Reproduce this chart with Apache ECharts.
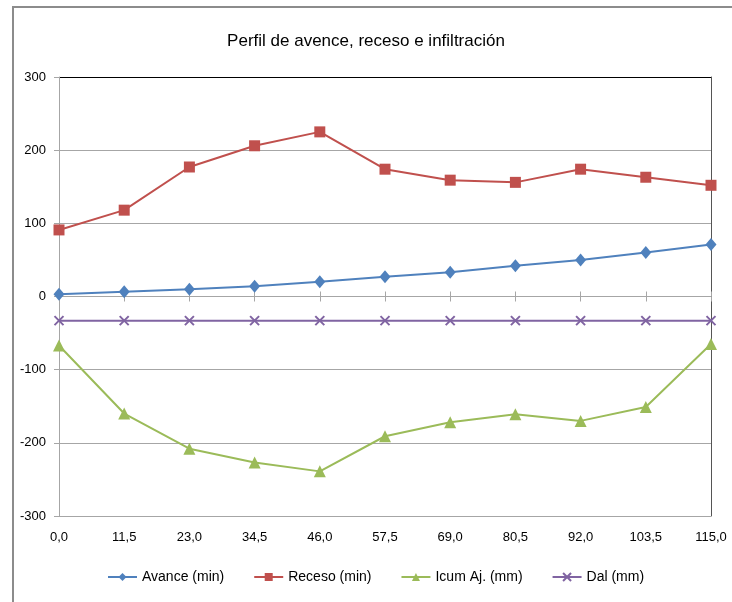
<!DOCTYPE html>
<html>
<head>
<meta charset="utf-8">
<script src="https://cdn.jsdelivr.net/npm/echarts@6/dist/echarts.min.js"></script>
<style>html,body{margin:0;padding:0;background:#fff}#c{width:732px;height:602px}</style>
</head>
<body>
<div id="c"></div>
<script>
var categories = ['0,0','11,5','23,0','34,5','46,0','57,5','69,0','80,5','92,0','103,5','115,0'];
var avance = [3, 6.5, 10, 14, 20, 27, 33, 42, 50, 60, 71];
var receso = [91, 118, 177, 206, 225, 174, 159, 156, 174, 163, 152];
var icum = [-67, -160, -208, -227, -239, -191, -172, -161, -170, -151, -65];
var dal = [-33, -33, -33, -33, -33, -33, -33, -33, -33, -33, -33];
var yTicks = [-300, -200, -100, 0, 100, 200, 300];

var FONT = "'Liberation Sans', Arial, sans-serif";
var chart = echarts.init(document.getElementById('c'));
var gridColor = '#a6a6a6';
var splitColors = yTicks.map(function (v, i) { return i === yTicks.length - 1 ? '#000' : gridColor; });

chart.setOption({
  animation: false,
  textStyle: { fontFamily: FONT },
  title: {
    text: 'Perfil de avence, receso e infiltración',
    left: 'center', top: 28,
    textStyle: { fontFamily: FONT, fontSize: 17, fontWeight: 'normal', color: '#000' }
  },
  graphic: [{
    type: 'rect', z: 100, silent: true,
    shape: { x: 13, y: 7, width: 800, height: 700 },
    style: { fill: 'none', stroke: '#8c8c8c', lineWidth: 2 }
  }],
  legend: {
    bottom: 13, left: 102,
    itemWidth: 29, itemHeight: 10, itemGap: 29,
    textStyle: { fontFamily: FONT, fontSize: 14, color: '#000' },
    data: ['Avance (min)', 'Receso (min)', 'Icum Aj. (mm)', 'Dal (mm)']
  },
  grid: { left: 59, right: 21, top: 77, bottom: 86, containLabel: false },
  xAxis: [{
    type: 'category', data: categories, boundaryGap: false, position: 'bottom',
    axisLine: { show: false, onZero: false }, axisTick: { show: false },
    axisLabel: { margin: 15, fontFamily: FONT, fontSize: 13, color: '#000' },
    splitLine: { show: false }
  }, {
    type: 'category', data: categories, boundaryGap: false,
    axisLine: { show: true, onZero: true, lineStyle: { color: gridColor, width: 1 } },
    axisTick: { show: true, length: 5, lineStyle: { color: gridColor } },
    axisLabel: { show: false }, splitLine: { show: false }
  }, {
    type: 'category', data: categories, boundaryGap: false,
    axisLine: { show: false, onZero: true },
    axisTick: { show: true, inside: true, length: 5, lineStyle: { color: gridColor } },
    axisLabel: { show: false }, splitLine: { show: false }
  }],
  yAxis: [{
    type: 'value', min: -300, max: 300, interval: 100,
    axisLine: { show: true, lineStyle: { color: gridColor } },
    axisTick: { show: true, length: 5, lineStyle: { color: gridColor } },
    axisLabel: { margin: 13, fontFamily: FONT, fontSize: 13, color: '#000' },
    splitLine: { show: true, lineStyle: { color: splitColors, width: 1 } }
  }, {
    type: 'value', min: -300, max: 300, interval: 100, position: 'right',
    axisLine: { show: true, lineStyle: { color: '#555' } },
    axisTick: { show: false }, axisLabel: { show: false }, splitLine: { show: false }
  }],
  series: [{
    name: 'Avance (min)', type: 'line', data: avance,
    symbol: 'diamond', symbolSize: [11, 13],
    lineStyle: { color: '#4F81BD', width: 2 }, itemStyle: { color: '#4F81BD' }
  }, {
    name: 'Receso (min)', type: 'line', data: receso,
    symbol: 'rect', symbolSize: 11,
    lineStyle: { color: '#C0504D', width: 2 }, itemStyle: { color: '#C0504D' }
  }, {
    name: 'Icum Aj. (mm)', type: 'line', data: icum,
    symbol: 'triangle', symbolSize: 12,
    lineStyle: { color: '#9BBB59', width: 2 }, itemStyle: { color: '#9BBB59' }
  }, {
    name: 'Dal (mm)', type: 'line', data: dal,
    symbol: 'path://M0,0L10,10M10,0L0,10', symbolSize: 9,
    lineStyle: { color: '#8064A2', width: 2 },
    itemStyle: { color: 'none', borderColor: '#8064A2', borderWidth: 2 }
  }]
});
</script>
</body>
</html>
